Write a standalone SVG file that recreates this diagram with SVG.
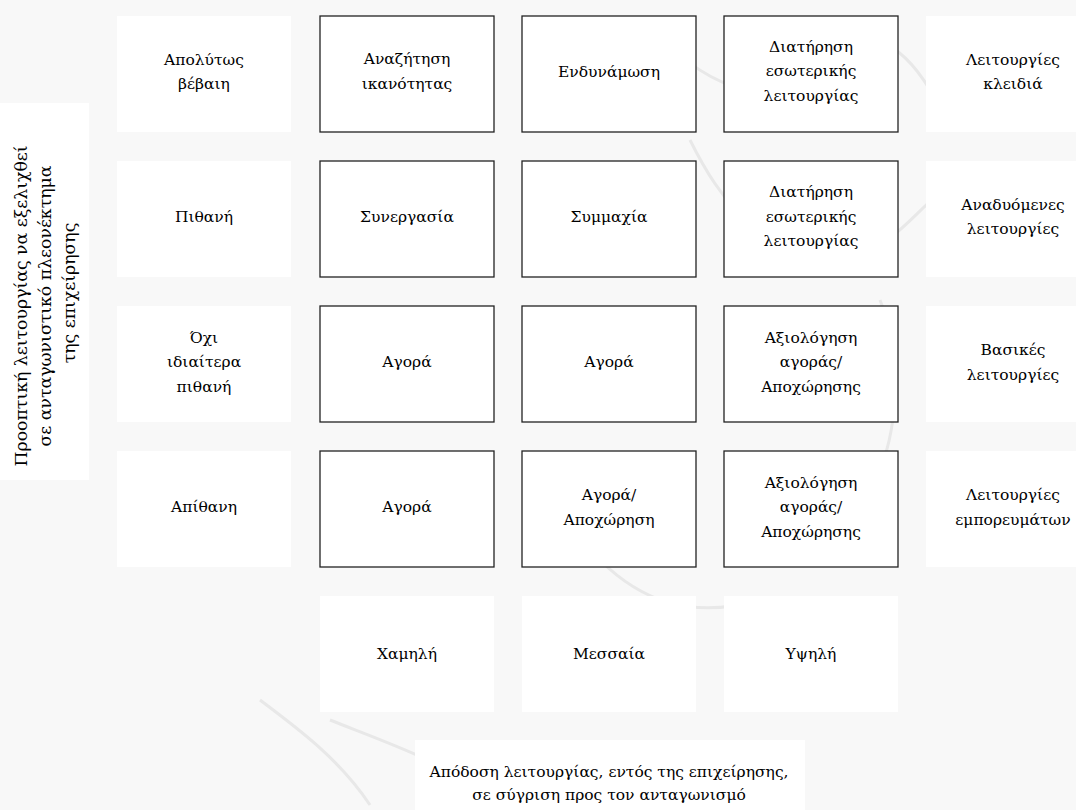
<svg xmlns="http://www.w3.org/2000/svg" width="1076" height="810" viewBox="0 0 1076 810">
<style>
text{font-family:"DejaVu Serif","Liberation Serif",serif;font-size:15.5px;fill:#000;text-anchor:middle}
.vt{font-size:17.3px}
.box{fill:#fff;stroke:#222;stroke-width:1.3}
.lbl{fill:#fff;stroke:none}
.wm{fill:none;stroke:#e8e8e8;stroke-width:3}
</style>
<rect width="1076" height="810" fill="#f8f8f8"/>
<g id="watermark">
<path class="wm" d="M640 20 C700 80 760 120 820 60 C860 20 900 40 930 90"/>
<path class="wm" d="M690 140 C720 200 760 260 860 250 C900 245 920 200 960 180"/>
<path class="wm" d="M600 560 C640 600 690 620 760 600"/>
<path class="wm" d="M330 720 C380 740 440 760 500 800"/>
<path class="wm" d="M260 700 C300 730 340 760 370 805"/>
<path class="wm" d="M880 300 C900 350 900 420 880 470"/>
</g>
<g id="axis-y"><rect class="lbl" x="0" y="103" width="89" height="377"/>
<text class="vt" transform="translate(27,306) rotate(-90)"><tspan x="0" y="0">Προοπτική λειτουργίας να εξελιχθεί</tspan><tspan x="0" y="24">σε ανταγωνιστικό πλεονέκτημα</tspan><tspan x="13" y="48">της επιχείρησης</tspan></text></g>
<g id="axis-x"><rect class="lbl" x="415" y="740" width="390" height="70"/>
<text x="609" y="777">Απόδοση λειτουργίας, εντός της επιχείρησης,</text><text x="609" y="800">σε σύγριση προς τον ανταγωνισμό</text></g>
<g id="row-labels">
<g id="l1"><rect class="lbl" x="117" y="16" width="174" height="116"/><text x="204" y="65">Απολύτως</text><text x="204" y="89">βέβαιη</text></g>
<g id="l2"><rect class="lbl" x="117" y="161" width="174" height="116"/><text x="204" y="222">Πιθανή</text></g>
<g id="l3"><rect class="lbl" x="117" y="306" width="174" height="116"/><text x="204" y="343">Όχι</text><text x="204" y="367">ιδιαίτερα</text><text x="204" y="392">πιθανή</text></g>
<g id="l4"><rect class="lbl" x="117" y="451" width="174" height="116"/><text x="204" y="512">Απίθανη</text></g>
</g>
<g id="right-labels">
<g id="r1"><rect class="lbl" x="926" y="16" width="174" height="116"/><text x="1013" y="65">Λειτουργίες</text><text x="1013" y="89">κλειδιά</text></g>
<g id="r2"><rect class="lbl" x="926" y="161" width="174" height="116"/><text x="1013" y="210">Αναδυόμενες</text><text x="1013" y="234">λειτουργίες</text></g>
<g id="r3"><rect class="lbl" x="926" y="306" width="174" height="116"/><text x="1013" y="355">Βασικές</text><text x="1013" y="380">λειτουργίες</text></g>
<g id="r4"><rect class="lbl" x="926" y="451" width="174" height="116"/><text x="1013" y="500">Λειτουργίες</text><text x="1013" y="525">εμπορευμάτων</text></g>
</g>
<g id="col-labels">
<g id="c1"><rect class="lbl" x="320" y="596" width="174" height="116"/><text x="407" y="659">Χαμηλή</text></g>
<g id="c2"><rect class="lbl" x="522" y="596" width="174" height="116"/><text x="609" y="659">Μεσσαία</text></g>
<g id="c3"><rect class="lbl" x="724" y="596" width="174" height="116"/><text x="811" y="659">Υψηλή</text></g>
</g>
<g id="cells">
<g id="b11"><rect class="box" x="320" y="16" width="174" height="116"/><text x="407" y="64">Αναζήτηση</text><text x="407" y="89">ικανότητας</text></g>
<g id="b12"><rect class="box" x="522" y="16" width="174" height="116"/><text x="609" y="77">Ενδυνάμωση</text></g>
<g id="b13"><rect class="box" x="724" y="16" width="174" height="116"/><text x="811" y="52">Διατήρηση</text><text x="811" y="76">εσωτερικής</text><text x="811" y="101">λειτουργίας</text></g>
<g id="b21"><rect class="box" x="320" y="161" width="174" height="116"/><text x="407" y="222">Συνεργασία</text></g>
<g id="b22"><rect class="box" x="522" y="161" width="174" height="116"/><text x="609" y="222">Συμμαχία</text></g>
<g id="b23"><rect class="box" x="724" y="161" width="174" height="116"/><text x="811" y="197">Διατήρηση</text><text x="811" y="222">εσωτερικής</text><text x="811" y="246">λειτουργίας</text></g>
<g id="b31"><rect class="box" x="320" y="306" width="174" height="116"/><text x="407" y="367">Αγορά</text></g>
<g id="b32"><rect class="box" x="522" y="306" width="174" height="116"/><text x="609" y="367">Αγορά</text></g>
<g id="b33"><rect class="box" x="724" y="306" width="174" height="116"/><text x="811" y="343">Αξιολόγηση</text><text x="811" y="367">αγοράς/</text><text x="811" y="392">Αποχώρησης</text></g>
<g id="b41"><rect class="box" x="320" y="451" width="174" height="116"/><text x="407" y="512">Αγορά</text></g>
<g id="b42"><rect class="box" x="522" y="451" width="174" height="116"/><text x="609" y="500">Αγορά/</text><text x="609" y="525">Αποχώρηση</text></g>
<g id="b43"><rect class="box" x="724" y="451" width="174" height="116"/><text x="811" y="488">Αξιολόγηση</text><text x="811" y="512">αγοράς/</text><text x="811" y="537">Αποχώρησης</text></g>
</g>
<g id="connectors"/>
</svg>
